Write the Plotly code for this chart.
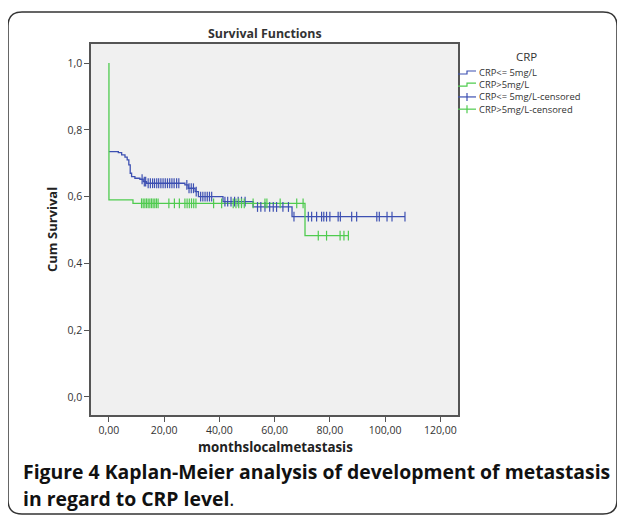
import numpy as np
import plotly.graph_objects as go

# ---- data ----
blue_t = [0, 3.4, 4.6, 5.8, 6.6, 7.2, 7.7, 8.2, 9.4, 11.2, 12.4, 13.6, 27.5, 28.7, 31.2, 32.4, 41.3, 52.2, 66.3, 107.2]
blue_s = [0.735, 0.732, 0.725, 0.718, 0.710, 0.695, 0.670, 0.660, 0.655, 0.652, 0.645, 0.640, 0.635, 0.625, 0.615, 0.600, 0.585, 0.569, 0.540, 0.540]
green_t = [0, 0, 8.7, 71.0, 86.7]
green_s = [1.0, 0.590, 0.580, 0.483, 0.483]

blue_cens = [12.0, 12.8, 13.3, 14.2, 15.0, 15.8, 16.5, 17.3, 18.0, 18.8, 19.6, 20.4, 21.2, 22.0, 22.8,
             23.6, 24.5, 25.3, 28.2, 29.0, 29.8, 30.6, 31.6, 33.2, 34.0, 34.8, 35.6, 36.4, 37.2, 42.0,
             43.0, 44.2, 45.5, 46.8, 48.0, 49.3, 53.8, 55.0, 56.5, 58.2, 59.5, 60.7, 63.0, 65.0, 67.0,
             72.2, 73.4, 75.2, 77.0, 77.8, 78.8, 80.0, 83.0, 83.8, 87.9, 89.7, 97.0, 97.9, 100.7, 102.5, 107.2]
green_cens = [11.8, 12.4, 13.0, 13.6, 14.2, 14.8, 15.4, 16.0, 16.6, 17.2, 17.8, 21.7, 23.7, 25.5, 27.5,
              28.3, 29.1, 29.9, 30.7, 31.5, 37.9, 40.8, 45.0, 46.0, 47.0, 48.0, 49.0, 52.2, 56.5, 57.2,
              62.0, 68.0, 70.3, 75.8, 78.8, 83.7, 85.1, 86.7]

x_tickvals = [0, 20, 40, 60, 80, 100, 120]
x_ticktext = ["0,00", "20,00", "40,00", "60,00", "80,00", "100,00", "120,00"]
y_tickvals = [0, 0.2, 0.4, 0.6, 0.8, 1.0]
y_ticktext = ["0,0", "0,2", "0,4", "0,6", "0,8", "1,0"]

series_names = ["CRP<= 5mg/L", "CRP>5mg/L", "CRP<= 5mg/L-censored", "CRP>5mg/L-censored"]
legend_title = "CRP"

BLUE = "#3d50b2"
GREEN = "#4fcb4f"
series_colors = [BLUE, GREEN, BLUE, GREEN]


def level_at(times, t_steps, s_steps):
    t_steps = np.asarray(t_steps)
    s_steps = np.asarray(s_steps)
    idx = np.searchsorted(t_steps, np.asarray(times), side="right") - 1
    return s_steps[idx]


# window pixel geometry (page has an 8px body margin)
OFF = 8
WIN_W, WIN_H = 625, 523
L, R, T, B = 91, 458, 44, 415


def px(x):
    return (x - L) / (R - L)


def py(y):
    return (B - y) / (B - T)


fig = go.Figure()
fig.add_trace(go.Scatter(x=blue_t, y=blue_s, mode="lines", line=dict(color=BLUE, width=1.3, shape="hv"),
                         name=series_names[0]))
fig.add_trace(go.Scatter(x=green_t, y=green_s, mode="lines", line=dict(color=GREEN, width=1.3, shape="hv"),
                         name=series_names[1]))
fig.add_trace(go.Scatter(x=blue_cens, y=level_at(blue_cens, blue_t, blue_s), mode="markers",
                         marker=dict(symbol="line-ns", size=7, line=dict(color=BLUE, width=1.2)),
                         name=series_names[2]))
fig.add_trace(go.Scatter(x=green_cens, y=level_at(green_cens, green_t, green_s), mode="markers",
                         marker=dict(symbol="line-ns", size=7, line=dict(color=GREEN, width=1.2)),
                         name=series_names[3]))

axis_common = dict(showgrid=False, zeroline=False, showline=True, mirror=True, linecolor="#555555",
                   linewidth=1.5, ticks="outside", ticklen=5, tickcolor="#555555",
                   tickfont=dict(family="Open Sans", size=10.5, color="#333333"))

fig.update_xaxes(range=[-6.5, 126.4], tickvals=x_tickvals, ticktext=x_ticktext, **axis_common)
fig.update_yaxes(range=[-0.054, 1.057], tickvals=y_tickvals, ticktext=y_ticktext, **axis_common)


def P(xp, yp):
    return f"{px(xp):.5f},{py(yp):.5f}"


# rounded outer border
x0, y0, x1, y1, r = 8, 12, 617, 514, 14
path = (f"M {P(x0 + r, y0)} L {P(x1 - r, y0)} Q {P(x1, y0)} {P(x1, y0 + r)} "
        f"L {P(x1, y1 - r)} Q {P(x1, y1)} {P(x1 - r, y1)} L {P(x0 + r, y1)} "
        f"Q {P(x0, y1)} {P(x0, y1 - r)} L {P(x0, y0 + r)} Q {P(x0, y0)} {P(x0 + r, y0)} Z")
fig.add_shape(type="path", path=path, xref="paper", yref="paper", line=dict(color="#333333", width=1.5))

# legend (SPSS style, drawn compactly as one multi-line text block)
leg_font = 9.4
leg_dy = 1.3 * leg_font
leg_x0, leg_x1, leg_y = 458, 476, 72.5
for i, col in enumerate(series_colors):
    yy = leg_y + i * leg_dy
    xm = (leg_x0 + leg_x1) / 2
    if i < 2:
        gpath = f"M {P(leg_x0, yy + 1.5)} L {P(xm, yy + 1.5)} L {P(xm, yy - 1.5)} L {P(leg_x1, yy - 1.5)}"
        fig.add_shape(type="path", path=gpath, xref="paper", yref="paper", line=dict(color=col, width=1.2))
    else:
        fig.add_shape(type="line", x0=px(leg_x0), x1=px(leg_x1), y0=py(yy), y1=py(yy),
                      xref="paper", yref="paper", line=dict(color=col, width=1.2))
        fig.add_shape(type="line", x0=px(xm), x1=px(xm), y0=py(yy - 4), y1=py(yy + 4),
                      xref="paper", yref="paper", line=dict(color=col, width=1.2))
fig.add_annotation(xref="paper", yref="paper", showarrow=False, xanchor="left", yanchor="middle",
                   align="left", borderpad=0,
                   x=px(leg_x1 + 2), y=py(leg_y + 1.5 * leg_dy), text="<br>".join(series_names),
                   font=dict(family="Open Sans", size=leg_font, color="#333333"))
fig.add_annotation(xref="paper", yref="paper", showarrow=False, xanchor="center", yanchor="middle",
                   x=px(526), y=py(56), text=legend_title, borderpad=0,
                   font=dict(family="Open Sans", size=11.5, color="#333333"))

annots = [
    dict(text="<b>Survival Functions</b>", x=px(265), y=py(33), font=dict(size=12.4, color="#333333")),
    dict(text="<b>Cum Survival</b>", x=px(52), y=py(230), textangle=-90, font=dict(size=13, color="#222222")),
    dict(text="<b>monthslocalmetastasis</b>", x=px(275), y=py(447), font=dict(size=13.3, color="#222222")),
]
for a in annots:
    fig.add_annotation(xref="paper", yref="paper", showarrow=False, xanchor="center", yanchor="middle",
                       font_family="Open Sans", **a)

fig.add_annotation(xref="paper", yref="paper", showarrow=False, xanchor="left", yanchor="middle",
                   x=px(21), y=py(471), text="<b>Figure 4 Kaplan-Meier analysis of development of metastasis</b>",
                   font=dict(family="Open Sans", size=19.4, color="#111111"))
fig.add_annotation(xref="paper", yref="paper", showarrow=False, xanchor="left", yanchor="middle",
                   x=px(21), y=py(498), text="<b>in regard to CRP level</b>.",
                   font=dict(family="Open Sans", size=19.4, color="#111111"))

fig.update_layout(
    width=WIN_W - OFF, height=WIN_H - OFF,
    margin=dict(l=L - OFF, r=WIN_W - R, t=T - OFF, b=WIN_H - B, autoexpand=False),
    paper_bgcolor="white", plot_bgcolor="#f0f0f0",
    font=dict(family="Open Sans", color="#333333"),
    showlegend=False,
)

fig.write_html("out.html")
